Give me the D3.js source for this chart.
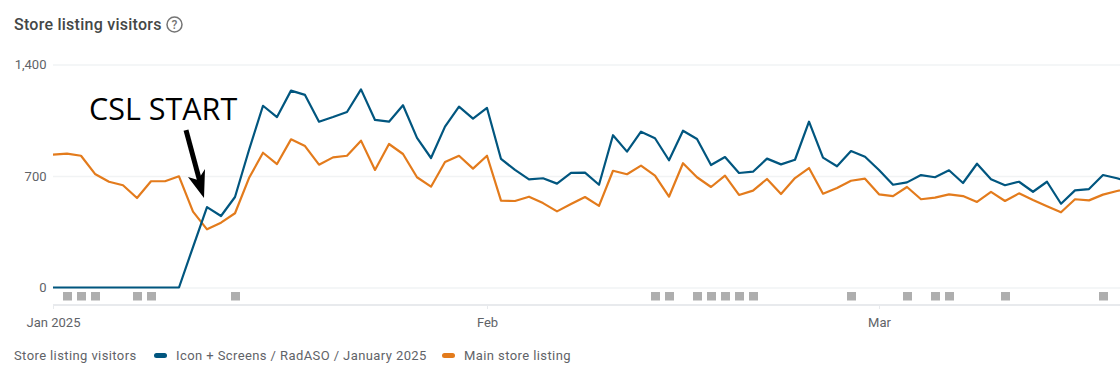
<!DOCTYPE html>
<html>
<head>
<meta charset="utf-8">
<script src="https://cdn.jsdelivr.net/npm/d3@7"></script>
<style>
html, body { margin: 0; padding: 0; background: #fff; overflow: hidden; }
text { font-family: Roboto, sans-serif; }
</style>
</head>
<body>
<div id="viz"></div>
<script>
const width = 1120
const height = 378

const blueName = "Icon + Screens / RadASO / January 2025"
const orangeName = "Main store listing"
const titleText = "Store listing visitors"
const yTicks = [0, 700, 1400]
const monthTicks = ["2025-01-01", "2025-02-01", "2025-03-01"]
const monthLabels = ["Jan 2025", "Feb", "Mar"]

// one value per day starting Jan 1
const blueValues = [0, 0, 0, 0, 0, 0, 0, 0, 0, 0, 254, 505, 449, 568, 863, 1141, 1070, 1236, 1209, 1041,
    1070, 1102, 1244, 1052, 1041, 1144, 939, 813, 1010, 1135, 1060, 1127, 807, 738, 679, 686, 652, 719, 721, 645,
    956, 853, 978, 937, 799, 984, 932, 769, 819, 719, 727, 809, 773, 802, 1041, 815, 761, 857, 821, 738,
    645, 660, 706, 692, 736, 656, 777, 679, 642, 664, 601, 664, 526, 610, 618, 706, 686, 662]
const orangeValues = [834, 840, 827, 713, 664, 642, 562, 667, 667, 698, 476, 365, 407, 466, 687, 846, 775, 930, 888, 771,
    817, 827, 922, 738, 901, 838, 692, 633, 788, 827, 746, 827, 545, 543, 570, 530, 478, 524, 568, 512,
    733, 711, 765, 702, 570, 780, 692, 631, 702, 581, 608, 681, 587, 687, 750, 589, 625, 670, 683, 585,
    574, 631, 554, 564, 585, 574, 537, 600, 543, 591, 549, 510, 472, 554, 547, 583, 606, 625]
// days that carry a grey marker, as offsets from Jan 1
const markerDays = [1, 2, 3, 6, 7, 13, 43, 44, 46, 47, 48, 49, 50, 57, 61, 63, 64, 68, 75]

const blueColor = "#01567f"
const orangeColor = "#e37b1c"
const textColor = "#5f6368"
const gridColor = "#f1f3f4"

const startDate = new Date(Date.UTC(2025, 0, 1))
const dayToDate = i => d3.utcDay.offset(startDate, i)

const svg = d3.select("#viz").append("svg").attr("width", width).attr("height", height).style("display", "block")

const xScale = d3.scaleUtc().domain([startDate, dayToDate(76)]).range([53, 1117])
const yScale = d3.scaleLinear().domain([0, 1400]).range([287.5, 64.5])

// Title and help icon
svg.append("text").attr("x", 14).attr("y", 30).attr("fill", "#444746").attr("font-size", 16).attr("font-weight", 500).attr("letter-spacing", 0.25).text(titleText)
const helpGroup = svg.append("g").attr("transform", "translate(174.5, 24.5)")
helpGroup.append("circle").attr("r", 7.5).attr("fill", "none").attr("stroke", "#757575").attr("stroke-width", 1.5)
helpGroup.append("text").attr("y", 4.5).attr("text-anchor", "middle").attr("fill", "#757575").attr("font-size", 12).attr("font-weight", 500).text("?")

// Y grid and labels
const yAxis = d3.axisLeft(yScale).tickValues(yTicks).tickSize(-(width - 53)).tickFormat(d3.format(","))
const yAxisGroup = svg.append("g").attr("transform", "translate(53, 0)").call(yAxis)
yAxisGroup.select(".domain").remove()
yAxisGroup.selectAll("line").attr("stroke", gridColor).attr("stroke-width", 1.5)
yAxisGroup.selectAll("text").attr("fill", textColor).attr("font-size", 13).attr("font-family", "Roboto, sans-serif").attr("x", -6.5).attr("dy", "0.32em")

// Marker strip
svg.append("g").selectAll("rect").data(markerDays).enter().append("rect")
    .attr("x", d => xScale(dayToDate(d)) - 4).attr("y", 292).attr("width", 9).attr("height", 8.5).attr("fill", "#aeaeae")

// X axis
svg.append("line").attr("x1", 53).attr("x2", width).attr("y1", 305).attr("y2", 305).attr("stroke", "#e8eaed").attr("stroke-width", 2)
const xAxis = d3.axisBottom(xScale).tickValues(monthTicks.map(d => new Date(d + "T00:00:00Z"))).tickSize(4).tickPadding(9).tickFormat((d, i) => monthLabels[i])
const xAxisGroup = svg.append("g").attr("transform", "translate(0, 305)").call(xAxis)
xAxisGroup.select(".domain").remove()
xAxisGroup.selectAll("line").attr("stroke", "#e8eaed")
xAxisGroup.selectAll("text").attr("fill", textColor).attr("font-size", 13).attr("font-family", "Roboto, sans-serif")

// Lines, the last day runs past the right edge
const line = d3.line().x((d, i) => xScale(dayToDate(i))).y(d => yScale(d))
svg.append("path").datum(orangeValues).attr("d", line).attr("fill", "none").attr("stroke", orangeColor).attr("stroke-width", 2.2).attr("stroke-linejoin", "round")
svg.append("path").datum(blueValues).attr("d", line).attr("fill", "none").attr("stroke", blueColor).attr("stroke-width", 2.2).attr("stroke-linejoin", "round")

// Annotation
svg.append("text").attr("x", 89).attr("y", 120).attr("fill", "black").attr("font-size", 30.5).style("font-family", "'Open Sans', sans-serif").text("CSL START")
const arrowX = xScale(dayToDate(11)) - 3
const arrowY = yScale(blueValues[11]) - 9
svg.append("line").attr("x1", arrowX - 18).attr("y1", arrowY - 68).attr("x2", arrowX - 4).attr("y2", arrowY - 16).attr("stroke", "black").attr("stroke-width", 5)
svg.append("path").attr("d", `M ${arrowX} ${arrowY} L ${arrowX - 16} ${arrowY - 21} L ${arrowX - 6} ${arrowY - 18} L ${arrowX + 1} ${arrowY - 29} Z`).attr("fill", "black")

// Legend
const legendGroup = svg.append("g").attr("transform", "translate(0, 360)")
legendGroup.append("text").attr("x", 14).attr("fill", textColor).attr("font-size", 13).attr("letter-spacing", 0.4).text(titleText)
legendGroup.append("rect").attr("x", 154).attr("y", -7).attr("width", 13).attr("height", 5).attr("rx", 2.5).attr("fill", blueColor)
legendGroup.append("text").attr("x", 176).attr("fill", textColor).attr("font-size", 13).attr("letter-spacing", 0.41).text(blueName)
legendGroup.append("rect").attr("x", 442).attr("y", -7).attr("width", 13).attr("height", 5).attr("rx", 2.5).attr("fill", orangeColor)
legendGroup.append("text").attr("x", 464).attr("fill", textColor).attr("font-size", 13).attr("letter-spacing", 0.41).text(orangeName)
</script>
</body>
</html>
